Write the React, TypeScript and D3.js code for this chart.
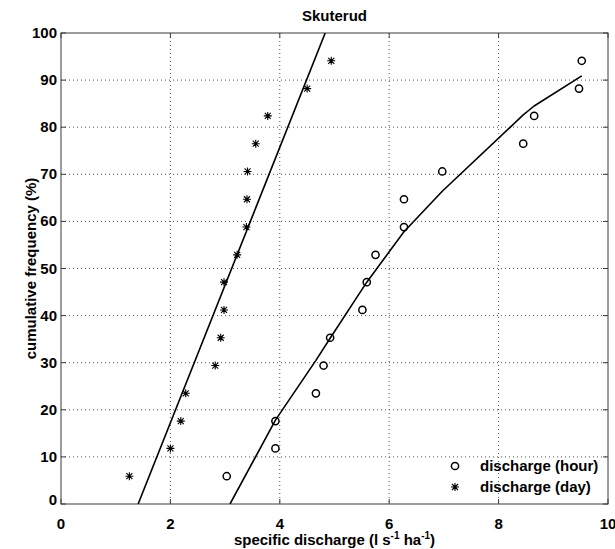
import React from "react";
import * as d3 from "d3";

const title = "Skuterud";
const xTicks = [0, 2, 4, 6, 8, 10];
const yTicks = [0, 10, 20, 30, 40, 50, 60, 70, 80, 90, 100];

// cumulative frequency (%) of each ranked observation
const freq = [5.9, 11.8, 17.6, 23.5, 29.4, 35.3, 41.2, 47.1, 52.9, 58.8, 64.7, 70.6, 76.5, 82.4, 88.2, 94.1];
const hourQ = [3.03, 3.92, 3.92, 4.66, 4.80, 4.92, 5.51, 5.59, 5.75, 6.27, 6.27, 6.97, 8.45, 8.65, 9.47, 9.52];
const dayQ = [1.25, 2.0, 2.19, 2.28, 2.82, 2.92, 2.98, 2.98, 3.22, 3.39, 3.40, 3.41, 3.56, 3.78, 4.50, 4.94];

const hourFitQ = [3.09, 3.92, 4.66, 4.92, 5.59, 6.27, 6.97, 8.45, 8.65, 9.52];
const hourFitF = [0, 17.8, 30.5, 35.2, 47.1, 57.8, 66.4, 82.6, 84.5, 90.9];
const dayFitQ = [1.41, 4.83];
const dayFitF = [0, 100];

const W = 615;
const H = 549;
const M = { left: 61, right: 608, top: 33, bottom: 504 };
const FONT = "'Liberation Sans', Arial, Helvetica, sans-serif";

function Star({ cx, cy, r }: { cx: number; cy: number; r: number }) {
  const d = r * 0.75;
  return (
    <path
      d={`M${cx - r},${cy}L${cx + r},${cy}M${cx},${cy - r}L${cx},${cy + r}M${cx - d},${cy - d}L${cx + d},${cy + d}M${cx - d},${cy + d}L${cx + d},${cy - d}`}
      stroke="#000"
      strokeWidth={1.1}
      fill="none"
    />
  );
}

export default function App() {
  const x = d3.scaleLinear().domain([0, 10]).range([M.left, M.right]);
  const y = d3.scaleLinear().domain([0, 100]).range([M.bottom, M.top]);
  const line = d3
    .line<[number, number]>()
    .x((d) => x(d[0]))
    .y((d) => y(d[1]));
  const hourFit = line(hourFitQ.map((q, i) => [q, hourFitF[i]] as [number, number])) || "";
  const dayFit = line(dayFitQ.map((q, i) => [q, dayFitF[i]] as [number, number])) || "";
  const tickLen = 5;
  const axisColor = "#3a3a3a";

  return (
    <svg
      width={W}
      height={H}
      style={{ position: "absolute", left: 0, top: 0, background: "#fff" }}
      fontFamily={FONT}
    >
      <defs>
        <clipPath id="plotClip">
          <rect x={M.left} y={M.top} width={M.right - M.left} height={M.bottom - M.top} />
        </clipPath>
      </defs>
      <rect x={0} y={0} width={W} height={H} fill="#fff" />
      {/* grid */}
      {xTicks.slice(1, -1).map((t) => (
        <line key={"gx" + t} x1={x(t)} x2={x(t)} y1={M.top} y2={M.bottom} stroke="#555" strokeWidth={1} strokeDasharray="1,3" />
      ))}
      {yTicks.slice(1, -1).map((t) => (
        <line key={"gy" + t} x1={M.left} x2={M.right} y1={y(t)} y2={y(t)} stroke="#555" strokeWidth={1} strokeDasharray="1,3" />
      ))}
      {/* ticks */}
      {xTicks.map((t) => (
        <g key={"tx" + t}>
          <line x1={x(t)} x2={x(t)} y1={M.bottom} y2={M.bottom - tickLen} stroke={axisColor} />
          <line x1={x(t)} x2={x(t)} y1={M.top} y2={M.top + tickLen} stroke={axisColor} />
          <text x={x(t)} y={M.bottom + 25} textAnchor="middle" fontSize={15} fontWeight="bold">
            {t}
          </text>
        </g>
      ))}
      {yTicks.map((t) => (
        <g key={"ty" + t}>
          <line x1={M.left} x2={M.left + tickLen} y1={y(t)} y2={y(t)} stroke={axisColor} />
          <line x1={M.right} x2={M.right - tickLen} y1={y(t)} y2={y(t)} stroke={axisColor} />
          <text x={M.left - 4} y={y(t) + (t === 0 ? 1 : 5)} textAnchor="end" fontSize={15} fontWeight="bold">
            {t}
          </text>
        </g>
      ))}
      {/* box */}
      <rect x={M.left} y={M.top} width={M.right - M.left} height={M.bottom - M.top} fill="none" stroke={axisColor} strokeWidth={1} />
      {/* fitted lines */}
      <g clipPath="url(#plotClip)">
        <path d={dayFit} fill="none" stroke="#000" strokeWidth={1.6} />
        <path d={hourFit} fill="none" stroke="#000" strokeWidth={1.6} strokeLinejoin="round" />
      </g>
      {/* observations */}
      {hourQ.map((q, i) => (
        <circle key={"h" + i} cx={x(q)} cy={y(freq[i])} r={3.6} fill="none" stroke="#000" strokeWidth={1.5} />
      ))}
      {dayQ.map((q, i) => (
        <Star key={"d" + i} cx={x(q)} cy={y(freq[i])} r={4} />
      ))}
      {/* legend */}
      <circle cx={455} cy={466} r={3.6} fill="none" stroke="#000" strokeWidth={1.5} />
      <text x={480} y={471} fontSize={15} fontWeight="bold">
        discharge (hour)
      </text>
      <Star cx={455} cy={487} r={4} />
      <text x={480} y={492} fontSize={15} fontWeight="bold">
        discharge (day)
      </text>
      {/* title and labels */}
      <text x={(M.left + M.right) / 2} y={21} textAnchor="middle" fontSize={15} fontWeight="bold">
        {title}
      </text>
      <text x={(M.left + M.right) / 2} y={545} textAnchor="middle" fontSize={15} fontWeight="bold">
        specific discharge (l s
        <tspan fontSize={10} dy={-6}>-1</tspan>
        <tspan dy={6}> ha</tspan>
        <tspan fontSize={10} dy={-6}>-1</tspan>
        <tspan dy={6}>)</tspan>
      </text>
      <text
        transform={`translate(36,${(M.top + M.bottom) / 2}) rotate(-90)`}
        textAnchor="middle"
        fontSize={15}
        fontWeight="bold"
      >
        cumulative frequency (%)
      </text>
    </svg>
  );
}
